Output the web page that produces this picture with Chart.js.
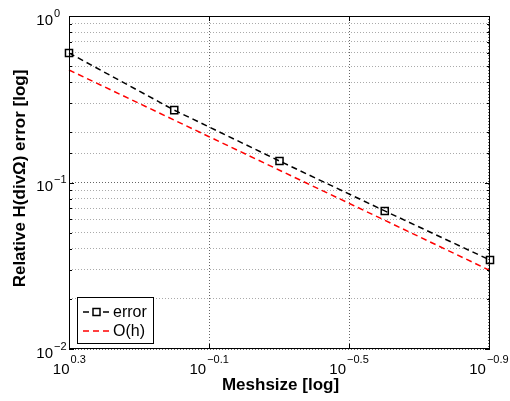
<!DOCTYPE html>
<html>
<head>
<meta charset="utf-8">
<script src="https://cdn.jsdelivr.net/npm/chart.js@4.4.1/dist/chart.umd.min.js"></script>
<style>
  html, body { margin: 0; padding: 0; background: #fff; }
  canvas { display: block; }
</style>
</head>
<body>
<canvas id="myChart" width="510" height="401"></canvas>
<script>
const meshsize = [2, 1, 0.5, 0.25, 0.125];
const errorValues = [0.6, 0.272, 0.1346, 0.0675, 0.0342];
const orderH = [0.474, 0.237, 0.1185, 0.0593, 0.0296];
const xTickExponents = [0.3, -0.1, -0.5, -0.9];
const yTickExponents = [0, -1, -2];

const FONT = '"Liberation Sans", Arial, Helvetica, sans-serif';

function isMajor(v) {
  const l = Math.log10(v);
  return Math.abs(l - Math.round(l)) < 1e-6;
}

function expText(e) {
  return String(e).replace('-', '\u2212');
}

const matlabAxes = {
  id: 'matlabAxes',
  afterDraw(chart) {
    const { ctx, chartArea: { top, bottom, left, right } } = chart;
    const xs = chart.scales.x;
    const ys = chart.scales.y;
    ctx.save();

    // frame
    ctx.strokeStyle = '#000';
    ctx.lineWidth = 1;
    ctx.strokeRect(left + 0.5, top + 0.5, right - left - 1, bottom - top - 1);

    // inward ticks
    ctx.beginPath();
    ys.ticks.forEach((t) => {
      const y = Math.round(ys.getPixelForValue(t.value)) + 0.5;
      const len = isMajor(t.value) ? 5 : 3;
      ctx.moveTo(left, y);
      ctx.lineTo(left + len, y);
      ctx.moveTo(right, y);
      ctx.lineTo(right - len, y);
    });
    xs.ticks.forEach((t) => {
      const x = Math.round(xs.getPixelForValue(t.value)) + 0.5;
      ctx.moveTo(x, bottom);
      ctx.lineTo(x, bottom - 5);
      ctx.moveTo(x, top);
      ctx.lineTo(x, top + 5);
    });
    ctx.stroke();

    // tick labels
    ctx.fillStyle = '#000';
    ctx.textBaseline = 'alphabetic';
    xTickExponents.forEach((e) => {
      const x = xs.getPixelForValue(Math.pow(10, e));
      const sup = expText(e);
      ctx.font = '15px ' + FONT;
      const w1 = ctx.measureText('10').width;
      ctx.font = '11px ' + FONT;
      const w2 = ctx.measureText(sup).width;
      const x0 = x - (w1 + w2 + 1) / 2;
      ctx.textAlign = 'left';
      ctx.font = '15px ' + FONT;
      ctx.fillText('10', x0, bottom + 25);
      ctx.font = '11px ' + FONT;
      ctx.fillText(sup, x0 + w1 + 1, bottom + 14);
    });
    yTickExponents.forEach((e) => {
      const y = ys.getPixelForValue(Math.pow(10, e));
      ctx.textAlign = 'right';
      ctx.font = '15px ' + FONT;
      ctx.fillText('10', left - 16, y + 8.5);
      ctx.textAlign = 'left';
      ctx.font = '11px ' + FONT;
      ctx.fillText(expText(e), left - 15, y + 0.5);
    });

    // axis titles
    ctx.font = 'bold 17px ' + FONT;
    ctx.textAlign = 'center';
    ctx.fillText('Meshsize [log]', (left + right) / 2 + 1, bottom + 41);
    ctx.save();
    ctx.translate(20, (top + bottom) / 2 - 4);
    ctx.rotate(-Math.PI / 2);
    ctx.textBaseline = 'middle';
    ctx.fillText('Relative H(div\u03A9) error [log]', 0, 0);
    ctx.restore();

    // legend box
    const bx = left + 8;
    const by = bottom - 52;
    ctx.fillStyle = '#fff';
    ctx.fillRect(bx, by, 76, 46);
    ctx.strokeStyle = '#000';
    ctx.lineWidth = 1;
    ctx.strokeRect(bx + 0.5, by + 0.5, 76, 46);

    chart.data.datasets.forEach((ds, i) => {
      const ly = by + 15 + i * 19;
      ctx.strokeStyle = ds.borderColor;
      ctx.lineWidth = ds.borderWidth;
      ctx.setLineDash(ds.borderDash);
      ctx.beginPath();
      ctx.moveTo(bx + 6, ly);
      ctx.lineTo(bx + 35, ly);
      ctx.stroke();
      ctx.setLineDash([]);
      if (ds.pointRadius > 0) {
        ctx.fillStyle = '#fff';
        ctx.fillRect(bx + 16, ly - 3.5, 7, 7);
        ctx.strokeRect(bx + 16, ly - 3.5, 7, 7);
      }
      ctx.fillStyle = '#000';
      ctx.font = '16px ' + FONT;
      ctx.textAlign = 'left';
      ctx.textBaseline = 'middle';
      ctx.fillText(ds.label, bx + 36, ly + 1);
    });

    ctx.restore();
  },
};

const data = {
  datasets: [
    {
      label: 'error',
      data: meshsize.map((h, i) => ({ x: h, y: errorValues[i] })),
      showLine: true,
      borderColor: '#000',
      borderWidth: 1.5,
      borderDash: [6, 4],
      pointStyle: 'rect',
      pointRadius: 5,
      pointBorderWidth: 1.5,
      pointBorderColor: '#000',
      pointBackgroundColor: 'rgba(0,0,0,0)',
      clip: false,
    },
    {
      label: 'O(h)',
      data: meshsize.map((h, i) => ({ x: h, y: orderH[i] })),
      showLine: true,
      borderColor: '#ff0000',
      borderWidth: 1.5,
      borderDash: [6, 4],
      pointRadius: 0,
      clip: false,
    },
  ],
};

const config = {
  type: 'scatter',
  data: data,
  options: {
    responsive: false,
    animation: false,
    layout: { padding: { left: 0, top: 16, right: 20, bottom: 0 } },
    plugins: { legend: { display: false }, tooltip: { enabled: false } },
    scales: {
      x: {
        type: 'logarithmic',
        reverse: true,
        min: 0.125,
        max: 2,
        afterBuildTicks: (s) => {
          s.ticks = xTickExponents.map((e) => ({ value: Math.pow(10, e) }));
        },
        afterFit: (s) => { s.height = 52; },
        ticks: { display: false },
        grid: { color: '#666', lineWidth: 1, drawTicks: false },
        border: { display: false, dash: [1, 2] },
      },
      y: {
        type: 'logarithmic',
        min: 0.01,
        max: 1,
        afterFit: (s) => { s.width = 69; },
        ticks: { display: false },
        grid: {
          color: (c) => (c.tick && isMajor(c.tick.value) ? '#666' : '#aaa'),
          lineWidth: 1,
          drawTicks: false,
        },
        border: { display: false, dash: [1, 2] },
      },
    },
  },
  plugins: [matlabAxes],
};

const myChart = new Chart(document.getElementById('myChart'), config);
</script>
</body>
</html>
